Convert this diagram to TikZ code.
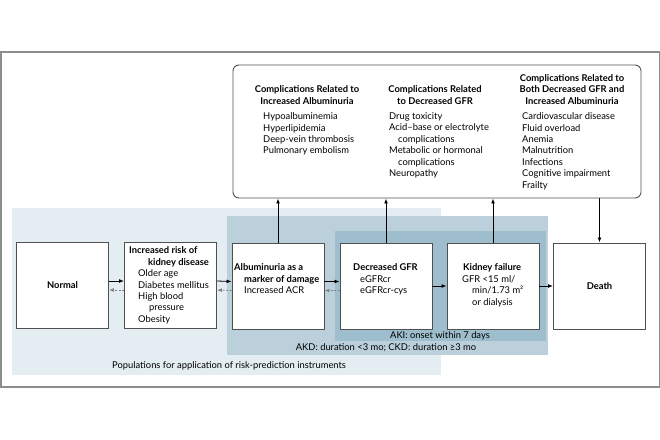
\documentclass[tikz,border=0pt]{standalone}
\usepackage{fontspec}
\setmainfont{Lato}
\usetikzlibrary{arrows.meta}
\definecolor{popblue}{RGB}{228,237,242}
\definecolor{akdblue}{RGB}{187,208,219}
\definecolor{akiblue}{RGB}{158,190,206}
\definecolor{boxline}{RGB}{80,80,80}
\definecolor{framegray}{RGB}{140,140,140}
\begin{document}
\begin{tikzpicture}[x=1bp,y=-1bp,
 box/.style={draw=boxline,line width=0.9bp,fill=white,minimum width=92bp,minimum height=86bp,inner sep=0,font=\bfseries\fontsize{9.4}{11.5}\selectfont},
 txt/.style={inner sep=0,align=left,anchor=north west,font=\fontsize{9.4}{11.5}\selectfont},
 hdr/.style={inner sep=0,align=center,anchor=north,font=\bfseries\fontsize{9.4}{11.5}\selectfont},
 lbl/.style={inner sep=0,font=\fontsize{9.4}{11.5}\selectfont},
 fwd/.style={draw=black,line width=0.8bp,-{Latex[length=5bp,width=3.8bp]}},
 back/.style={draw=gray,line width=0.8bp,dash pattern=on 2bp off 1.5bp,-{Latex[length=5bp,width=3.8bp]}},
]
\useasboundingbox (0,0) rectangle (660,440);
\draw[framegray,line width=1.5bp] (0.75,52) rectangle (659.25,387);
% regions
\fill[popblue] (12,208) rectangle (441,375);
\fill[akdblue] (227,216) rectangle (548,355);
\fill[akiblue] (335,231) rectangle (546,341);
% boxes
\node[box] (normal) at (62.5,285.5) {Normal};
\node[box] (risk) at (170.5,285.5) {};
\node[box] (alb) at (278,286) {};
\node[box] (gfr) at (386,286) {};
\node[box] (kf) at (493,286) {};
\node[box] (death) at (599.5,286) {Death};
\node[draw=boxline,line width=0.9bp,rounded corners=6bp,minimum width=408bp,minimum height=133bp,inner sep=0] (comp) at (437,131.5) {};
% box texts
\node[txt] (risktxt) at (129,246.5) {\textbf{Increased risk of}\\\hspace*{19bp}\textbf{kidney disease}\\\hspace*{9bp}Older age\\\hspace*{9bp}Diabetes mellitus\\\hspace*{9bp}High blood\\\hspace*{20bp}pressure\\\hspace*{9bp}Obesity};
\node[txt] (albtxt) at (234,263.5) {\textbf{Albuminuria as a}\\\hspace*{10bp}\textbf{marker of damage}\\\hspace*{10bp}Increased ACR};
\node[txt] (gfrtxt) at (353,263.5) {\textbf{Decreased GFR}\\\hspace*{7bp}eGFRcr\\\hspace*{7bp}eGFRcr-cys};
\node[txt] (kftxt) at (462,263.5) {\hspace*{1bp}\textbf{Kidney failure}\\GFR <15 ml/\\\hspace*{10bp}min/1.73 m²\\\hspace*{10bp}or dialysis};
% complications
\node[hdr] (h1) at (307,85.5) {Complications Related to\\Increased Albuminuria};
\node[txt] (c1) at (263,112.5) {Hypoalbuminemia\\Hyperlipidemia\\Deep-vein thrombosis\\Pulmonary embolism};
\node[hdr] (h2) at (435,85.5) {Complications Related\\to Decreased GFR};
\node[txt] (c2) at (389,112.5) {Drug toxicity\\Acid–base or electrolyte\\\hspace*{9bp}complications\\Metabolic or hormonal\\\hspace*{9bp}complications\\Neuropathy};
\node[hdr] (h3) at (572,74) {Complications Related to\\Both Decreased GFR and\\Increased Albuminuria};
\node[txt] (c3) at (522,112.5) {Cardiovascular disease\\Fluid overload\\Anemia\\Malnutrition\\Infections\\Cognitive impairment\\Frailty};
% region labels
\node[lbl] (aki) at (440,336) {AKI: onset within 7 days};
\node[lbl] (akd) at (386,348) {AKD: duration <3 mo; CKD: duration ≥3 mo};
\node[lbl,anchor=west] (pop) at (112,366) {Populations for application of risk-prediction instruments};
% arrows
\draw[fwd] ([yshift=4.5bp]normal.east) -- ([yshift=4.5bp]risk.west);
\draw[back] ([yshift=-4.5bp]risk.west) -- ([yshift=-4.5bp]normal.east);
\draw[fwd] ([yshift=4.5bp]risk.east) -- ([yshift=4.5bp]alb.west);
\draw[back] ([yshift=-4.5bp]alb.west) -- ([yshift=-4.5bp]risk.east);
\draw[fwd] ([yshift=4.5bp]alb.east) -- ([yshift=4.5bp]gfr.west);
\draw[back] ([yshift=-4.5bp]gfr.west) -- ([yshift=-4.5bp]alb.east);
\draw[fwd] (gfr.east) -- (kf.west);
\draw[fwd] (kf.east) -- (death.west);
\draw[fwd] (alb.north) -- (alb.north |- comp.south);
\draw[fwd] (gfr.north) -- (gfr.north |- comp.south);
\draw[fwd] (kf.north) -- (kf.north |- comp.south);
\draw[fwd] (comp.south -| death.north) -- (death.north);
\end{tikzpicture}
\end{document}
